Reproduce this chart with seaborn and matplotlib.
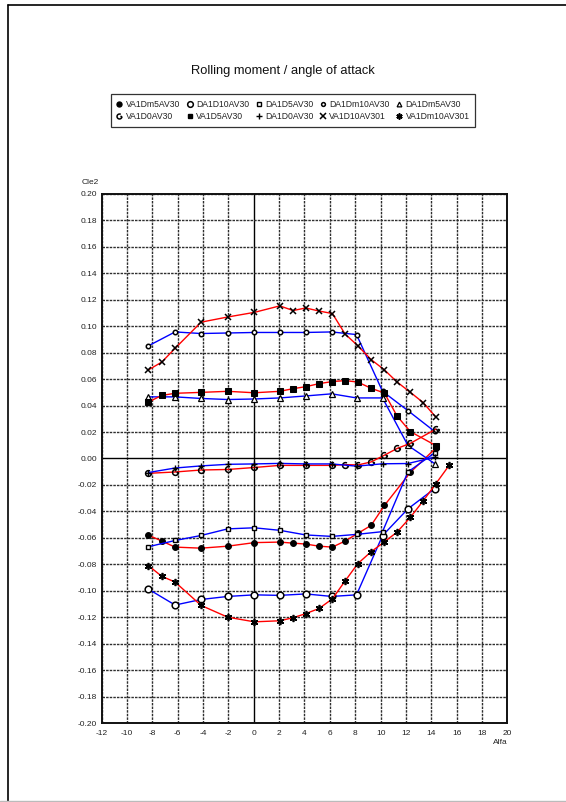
import numpy as np
import pandas as pd
import matplotlib
matplotlib.use("Agg")
import matplotlib.pyplot as plt
from matplotlib.lines import Line2D
from matplotlib.path import Path
import seaborn as sns

# ---- data -----------------------------------------------------------------
# angles of attack used by the VA runs (red) and the DA runs (blue)
alfa_va_full = [-8.3, -7.25, -6.2, -4.15, -2.05, 0.05, 2.05, 3.1, 4.1, 5.15,
                6.2, 7.2, 8.2, 9.25, 10.3, 11.3, 12.35, 13.35, 14.35, 15.4]
alfa_da = [-8.3, -6.2, -4.15, -2.05, 0.05, 2.05, 4.1, 6.15, 8.1, 10.15, 12.15, 14.25]

alfa_va1dm5 = [-8.3, -7.25, -6.2, -4.15, -2.05, 0.05, 2.05, 3.1, 4.1, 5.15,
               6.2, 7.2, 8.2, 9.25, 10.3, 12.35, 14.35]
cle_va1dm5 = [-0.058, -0.0624, -0.067, -0.0678, -0.0663, -0.0636, -0.0632, -0.064, -0.0647, -0.0663,
              -0.067, -0.0624, -0.0566, -0.0506, -0.0355, -0.0104, 0.0079]

cle_da1d10 = [-0.0988, -0.1108, -0.1066, -0.1043, -0.1031, -0.1035, -0.1024, -0.1043,
              -0.1031, -0.0583, -0.0381, -0.0228]

cle_da1d5 = [-0.0667, -0.062, -0.0582, -0.0532, -0.0524, -0.0543, -0.0578, -0.0589,
             -0.0574, -0.0553, -0.0102, 0.0042]

cle_da1dm10 = [0.0852, 0.0957, 0.0945, 0.0949, 0.0953, 0.0953, 0.0953, 0.0957,
               0.0937, 0.0508, 0.0362, 0.0205]

cle_da1dm5 = [0.0466, 0.0466, 0.0454, 0.0446, 0.045, 0.0458, 0.0473, 0.0489,
              0.0458, 0.0458, 0.0099, -0.0038]

alfa_va1d0 = [-8.3, -6.2, -4.15, -2.05, 0.05, 2.05, 4.1, 6.2, 7.2, 8.2,
              9.25, 10.3, 11.3, 12.35, 14.35]
cle_va1d0 = [-0.0112, -0.0102, -0.0087, -0.0083, -0.0068, -0.0052, -0.0052, -0.0052, -0.0046, -0.0049,
             -0.0026, 0.0025, 0.0076, 0.0115, 0.0222]

alfa_va1d5 = [-8.3, -7.25, -6.2, -4.15, -2.05, 0.05, 2.05, 3.1, 4.1, 5.15,
              6.2, 7.2, 8.2, 9.25, 10.3, 11.3, 12.35, 14.35]
cle_va1d5 = [0.0427, 0.0477, 0.0493, 0.050, 0.0508, 0.0497, 0.0508, 0.0528, 0.0543, 0.0566,
             0.0582, 0.0589, 0.0578, 0.0531, 0.0495, 0.032, 0.0203, 0.0098]

cle_da1d0 = [-0.0106, -0.0072, -0.0056, -0.0044, -0.0041, -0.0037, -0.0041, -0.0041,
             -0.0058, -0.0040, -0.0038, 0.001]

alfa_va1d10 = alfa_va_full[:19]
cle_va1d10 = [0.067, 0.0729, 0.0833, 0.1031, 0.107, 0.1105, 0.1154, 0.1119, 0.1138, 0.1115,
              0.1096, 0.0941, 0.0853, 0.0748, 0.067, 0.0578, 0.050, 0.0423, 0.0313]

cle_va1dm10 = [-0.081, -0.0891, -0.0934, -0.1111, -0.120, -0.1235, -0.1227, -0.1204, -0.1173, -0.1134,
               -0.1061, -0.0926, -0.0795, -0.0705, -0.063, -0.0556, -0.0444, -0.0321, -0.0191, -0.0052]

labels = ["VA1Dm5AV30", "DA1D10AV30", "DA1D5AV30", "DA1Dm10AV30", "DA1Dm5AV30",
          "VA1D0AV30", "VA1D5AV30", "DA1D0AV30", "VA1D10AV301", "VA1Dm10AV301"]

x_ticks = list(range(-12, 21, 2))
y_ticks = [k / 100 for k in range(-20, 21, 2)]

# ---- styling --------------------------------------------------------------
sns.set_theme(style="white")
plt.rcParams["font.family"] = ["Liberation Sans", "DejaVu Sans"]

RED = "#ff0000"
BLUE = "#0000ff"

# circle with a notch cut out of the upper right, plus a short stem
notch_circle = Path.make_compound_path(
    Path.arc(60, 360),
    Path([(1.0, 0.0), (0.35, 0.0)], [Path.MOVETO, Path.LINETO]),
)
asterisk = (6, 2, 0)

series = {
    "VA1Dm5AV30":  (alfa_va1dm5, cle_va1dm5, RED,  dict(marker="o", ms=4.2, mfc="black", mec="black")),
    "DA1D10AV30":  (alfa_da, cle_da1d10, BLUE, dict(marker="o", ms=4.8, mfc="white", mec="black", mew=1.1)),
    "DA1D5AV30":   (alfa_da, cle_da1d5, BLUE, dict(marker="s", ms=3.5, mfc="white", mec="black", mew=1.0)),
    "DA1Dm10AV30": (alfa_da, cle_da1dm10, BLUE, dict(marker="o", ms=3.2, mfc="white", mec="black", mew=1.1)),
    "DA1Dm5AV30":  (alfa_da, cle_da1dm5, BLUE, dict(marker="^", ms=4.0, mfc="white", mec="black", mew=0.9)),
    "VA1D0AV30":   (alfa_va1d0, cle_va1d0, RED,  dict(marker=notch_circle, ms=4.2, mfc="none", mec="black", mew=1.1)),
    "VA1D5AV30":   (alfa_va1d5, cle_va1d5, RED,  dict(marker="s", ms=3.8, mfc="black", mec="black")),
    "DA1D0AV30":   (alfa_da, cle_da1d0, BLUE, dict(marker="+", ms=5.0, mec="black", mew=1.0)),
    "VA1D10AV301": (alfa_va1d10, cle_va1d10, RED, dict(marker="x", ms=4.8, mec="black", mew=1.1)),
    "VA1Dm10AV301": (alfa_va_full, cle_va1dm10, RED, dict(marker=asterisk, ms=5.2, mec="black", mew=1.2)),
}

fig = plt.figure(figsize=(5.66, 8.02), dpi=100)
fig.patch.set_facecolor("white")
W, H = 566.0, 802.0
ax = fig.add_axes([101.5 / W, 1 - 723 / H, 406 / W, 529 / H])

# grid first, then the zero axes
grid_kw = dict(color="#2e2e2e", lw=1.0, ls=(0, (1.8, 0.8)), zorder=1)
for xv in x_ticks:
    if xv == 0:
        ax.axvline(0, color="black", lw=1.0, zorder=1)
    else:
        ax.axvline(xv, **grid_kw)
for yv in y_ticks:
    if yv == 0:
        ax.axhline(0, color="black", lw=1.0, zorder=1)
    else:
        ax.axhline(yv, **grid_kw)

handles = {}
for name, (xs, ys, col, mk) in series.items():
    df = pd.DataFrame({"Alfa": xs, "Cle2": ys})
    sns.lineplot(data=df, x="Alfa", y="Cle2", ax=ax, color=col, lw=1.0,
                 sort=False, estimator=None, zorder=3, **mk)
    handles[name] = Line2D([], [], linestyle="none", **mk)

ax.set_xlim(-12, 20)
ax.set_ylim(-0.20, 0.20)
ax.set_xticks(x_ticks)
ax.set_yticks(y_ticks)
ax.set_xticklabels([str(v) for v in x_ticks])
ax.set_yticklabels([f"{v:.2f}" for v in y_ticks])
ax.tick_params(axis="both", length=0, labelsize=6, colors="#222222")
ax.tick_params(axis="x", pad=5)
ax.tick_params(axis="y", pad=3)
ax.set_xlabel("")
ax.set_ylabel("")
for sp in ax.spines.values():
    sp.set_visible(True)
    sp.set_color("#111111")
    sp.set_linewidth(1.4)
    sp.set_zorder(4)

fig.text(82 / W, 1 - 183 / H, "Cle2", fontsize=6, ha="left", va="center", color="#222222")
fig.text(500 / W, 1 - 742 / H, "Alfa", fontsize=6, ha="center", va="center", color="#222222")
fig.text(283 / W, 1 - 71 / H, "Rolling moment / angle of attack", fontsize=9.3,
         ha="center", va="center", color="#111111")

# legend is filled column by column, so interleave the two rows
order = []
for c in range(5):
    order += [labels[c], labels[c + 5]]
leg = fig.legend([handles[n] for n in order], order, ncol=5, loc="center",
                 bbox_to_anchor=(293 / W, 1 - 110.5 / H), fontsize=6.2,
                 frameon=True, fancybox=False, edgecolor="black",
                 columnspacing=0.75, handletextpad=0.4, handlelength=0.7,
                 borderpad=0.65, labelspacing=0.35, borderaxespad=0, markerscale=0.85)
leg.get_frame().set_linewidth(0.9)
for t in leg.get_texts():
    t.set_color("#222222")

# page frame
fig.add_artist(Line2D([7.5 / W, 7.5 / W], [0, 1 - 4.5 / H], color="black", lw=1.2,
                      transform=fig.transFigure))
fig.add_artist(Line2D([7.5 / W, 1], [1 - 4.5 / H, 1 - 4.5 / H], color="black", lw=1.2,
                      transform=fig.transFigure))
fig.add_artist(Line2D([0, 1], [1 - 800.5 / H, 1 - 800.5 / H], color="#bbbbbb", lw=1.0,
                      transform=fig.transFigure))

fig.savefig("out.png", dpi=100)
